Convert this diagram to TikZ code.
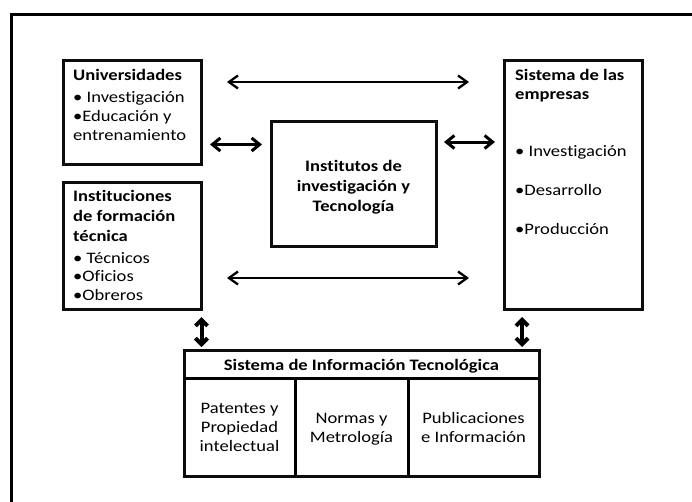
\documentclass[tikz,border=0pt]{standalone}
\usepackage{fontspec}
\setmainfont{Carlito}[FakeStretch=1.16, Ligatures=NoCommon]
\usetikzlibrary{arrows.meta}
\begin{document}
\begin{tikzpicture}[x=1pt,y=-1pt,
  box/.style={draw=black!95, line width=3pt, fill=white, inner sep=0pt},
  txt/.style={inner sep=0pt, anchor=base west, font=\fontsize{16}{19}\selectfont},
  btxt/.style={txt, font=\fontsize{16}{19}\selectfont\bfseries},
  ctxt/.style={inner sep=0pt, anchor=base, font=\fontsize{16}{19}\selectfont},
  cbtxt/.style={ctxt, font=\fontsize{16}{19}\selectfont\bfseries},
  harrow/.style={line width=2.3pt, {Straight Barb[length=9pt,width=13pt]}-{Straight Barb[length=9pt,width=13pt]}},
  sarrow/.style={line width=3pt, {Straight Barb[length=8pt,width=13pt]}-{Straight Barb[length=8pt,width=13pt]}},
  varrow/.style={line width=4pt, {Straight Barb[length=6pt,width=12pt]}-{Straight Barb[length=6pt,width=12pt]}},
  frame/.style={line width=3pt}]
\useasboundingbox (0,0) rectangle (692,501);
\fill[white] (0,0) rectangle (692,501);
% frame
\draw[frame] (11.5,510) -- (11.5,14.5) -- (700,14.5);
% boxes
\node[box, minimum width=138, minimum height=104] (uni) at (132,112) {};
\node[box, minimum width=138, minimum height=127] (inst) at (132,245.5) {};
\node[box, minimum width=165, minimum height=125] (itec) at (353.5,183.5) {};
\node[box, minimum width=138, minimum height=249] (emp) at (573,184.5) {};
\node[box, minimum width=355, minimum height=126] (sit) at (361.5,413) {};
\coordinate (hl) at (184,378.5);
\coordinate (hr) at (539,378.5);
\draw[line width=3pt] (hl) -- (hr);
\coordinate (d1t) at (295.5,378.5);
\coordinate (d1b) at (295.5,476);
\coordinate (d2t) at (408.5,378.5);
\coordinate (d2b) at (408.5,476);
\draw[line width=3.5pt] (d1t) -- (d1b);
\draw[line width=3.5pt] (d2t) -- (d2b);
% texts universidades
\node[btxt] (t1) at (73,80) {Universidades};
\node[txt] (t2) at (73,102) {• Investigación};
\node[txt] (t3) at (73,121) {•Educación y};
\node[txt] (t4) at (73,140) {entrenamiento};
% instituciones
\node[btxt] (t5) at (73,201) {Instituciones};
\node[btxt] (t6) at (73,221.5) {de formación};
\node[btxt] (t7) at (73,241) {técnica};
\node[txt] (t8) at (73,263) {• Técnicos};
\node[txt] (t9) at (73,281.5) {•Oficios};
\node[txt] (t10) at (73,300) {•Obreros};
% institutos
\node[cbtxt] (t11) at (353.5,171.5) {Institutos de};
\node[cbtxt] (t12) at (353.5,191.5) {investigación y};
\node[cbtxt] (t13) at (353.5,211.5) {Tecnología};
% empresas
\node[btxt] (t14) at (515,80) {Sistema de las};
\node[btxt] (t15) at (515,99) {empresas};
\node[txt] (t16) at (515,156.5) {• Investigación};
\node[txt] (t17) at (515,195.5) {•Desarrollo};
\node[txt] (t18) at (515,234) {•Producción};
% bottom
\node[cbtxt] (t19) at (361.5,370) {Sistema de Información Tecnológica};
\node[ctxt] (t20) at (239.5,413) {Patentes y};
\node[ctxt] (t21) at (239.5,432) {Propiedad};
\node[ctxt] (t22) at (239.5,451) {intelectual};
\node[ctxt] (t23) at (351.5,423) {Normas y};
\node[ctxt] (t24) at (351.5,442) {Metrología};
\node[ctxt] (t25) at (473.5,423) {Publicaciones};
\node[ctxt] (t26) at (473.5,442) {e Información};
% arrows
\coordinate (a1s) at (227,82); \coordinate (a1e) at (469,82);
\coordinate (a2s) at (227,278); \coordinate (a2e) at (469,278);
\coordinate (a3s) at (210,144.5); \coordinate (a3e) at (262,144.5);
\coordinate (a4s) at (444,142); \coordinate (a4e) at (495,142);
\coordinate (a5s) at (201.5,317); \coordinate (a5e) at (201.5,347);
\coordinate (a6s) at (522,317); \coordinate (a6e) at (522,347);
\draw[harrow] (a1s) -- (a1e);
\draw[harrow] (a2s) -- (a2e);
\draw[sarrow] (a3s) -- (a3e);
\draw[sarrow] (a4s) -- (a4e);
\draw[varrow] (a5s) -- (a5e);
\draw[varrow] (a6s) -- (a6e);
\end{tikzpicture}
\end{document}
